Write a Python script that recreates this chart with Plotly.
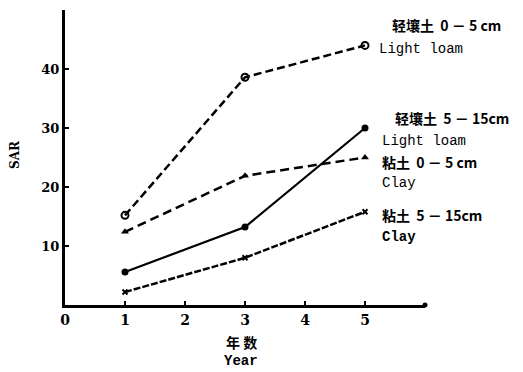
import plotly.graph_objects as go

years = [1, 3, 5]
light_loam_0_5 = [15.2, 38.6, 44.0]
clay_0_5 = [12.4, 21.9, 25.0]
light_loam_5_15 = [5.6, 13.2, 30.0]
clay_5_15 = [2.2, 8.0, 15.8]

x_ticks = [0, 1, 2, 3, 4, 5]
y_ticks = [10, 20, 30, 40]

FONT = "DejaVu Serif"
MONO = "Liberation Mono"
CJK = "Noto Sans CJK SC"

fig = go.Figure()
fig.add_trace(go.Scatter(x=years, y=light_loam_0_5, mode="lines+markers",
    line=dict(color="black", width=2.5, dash="8px,4px"),
    marker=dict(symbol="circle-open", size=7, color="black", line=dict(width=2))))
fig.add_trace(go.Scatter(x=years, y=clay_0_5, mode="lines+markers",
    line=dict(color="black", width=2.5, dash="9px,5px"),
    marker=dict(symbol="triangle-up", size=7, color="black")))
fig.add_trace(go.Scatter(x=years, y=light_loam_5_15, mode="lines+markers",
    line=dict(color="black", width=2.2),
    marker=dict(symbol="circle", size=7, color="black")))
fig.add_trace(go.Scatter(x=years, y=clay_5_15, mode="lines+markers",
    line=dict(color="black", width=2.5, dash="7px,2px"),
    marker=dict(symbol="x-thin", size=5, color="black", line=dict(width=2, color="black"))))

# axis end dot
fig.add_trace(go.Scatter(x=[6], y=[0], mode="markers",
    marker=dict(symbol="circle", size=5, color="black"), cliponaxis=False))

# reference-pixel helper: plot area spans x 65..425, y 305..10
def px2paper(px, py):
    return (px - 65) / 360, (305 - py) / 295

labels = [
    (390, 25, "<b>轻壤土  0 － 5 cm</b>", CJK, 14),
    (377, 49, "Light loam", MONO, 14),
    (393, 118, "<b>轻壤土  5 － 15cm</b>", CJK, 14),
    (380, 141, "Light loam", MONO, 14),
    (380, 162, "<b>粘土  0 － 5 cm</b>", CJK, 14),
    (380, 183, "Clay", MONO, 14),
    (380, 215, "<b>粘土  5 － 15cm</b>", CJK, 14),
    (380, 237, "<b>Clay</b>", MONO, 14),
]
for (px, py, txt, fnt, sz) in labels:
    ax, ay = px2paper(px, py)
    fig.add_annotation(x=ax, y=ay, xref="paper", yref="paper",
        xanchor="left", yanchor="middle", text=txt, showarrow=False,
        font=dict(family=fnt, size=sz, color="black"))

ax, ay = px2paper(15, 155)
fig.add_annotation(x=ax, y=ay, xref="paper", yref="paper",
    xanchor="center", yanchor="middle",
    text="<b>SAR</b>", textangle=-90, showarrow=False,
    font=dict(family=FONT, size=12, color="black"))
ax, ay = px2paper(241, 342)
fig.add_annotation(x=ax, y=ay, xref="paper", yref="paper",
    xanchor="center", yanchor="middle",
    text="<b>年 数</b>", showarrow=False, font=dict(family=CJK, size=14, color="black"))
ax, ay = px2paper(241, 361)
fig.add_annotation(x=ax, y=ay, xref="paper", yref="paper",
    xanchor="center", yanchor="middle",
    text="<b>Year</b>", showarrow=False, font=dict(family=MONO, size=14, color="black"))

fig.update_layout(
    width=523, height=372, showlegend=False,
    paper_bgcolor="white", plot_bgcolor="white",
    margin=dict(l=57, r=106, t=2, b=75),
    xaxis=dict(range=[0, 6], tickvals=x_ticks, ticktext=[f"<b>{v}</b>" for v in x_ticks],
        showgrid=False, zeroline=False, showline=True, linecolor="black", linewidth=3,
        ticks="inside", ticklen=4, tickwidth=2, tickcolor="black",
        tickfont=dict(family=FONT, size=14, color="black")),
    yaxis=dict(range=[0, 50], tickvals=y_ticks, ticktext=[f"<b>{v}</b>" for v in y_ticks],
        showgrid=False, zeroline=False, showline=True, linecolor="black", linewidth=3,
        ticks="inside", ticklen=4, tickwidth=2, tickcolor="black",
        tickfont=dict(family=FONT, size=13, color="black")),
)

fig.write_html("out.html")
